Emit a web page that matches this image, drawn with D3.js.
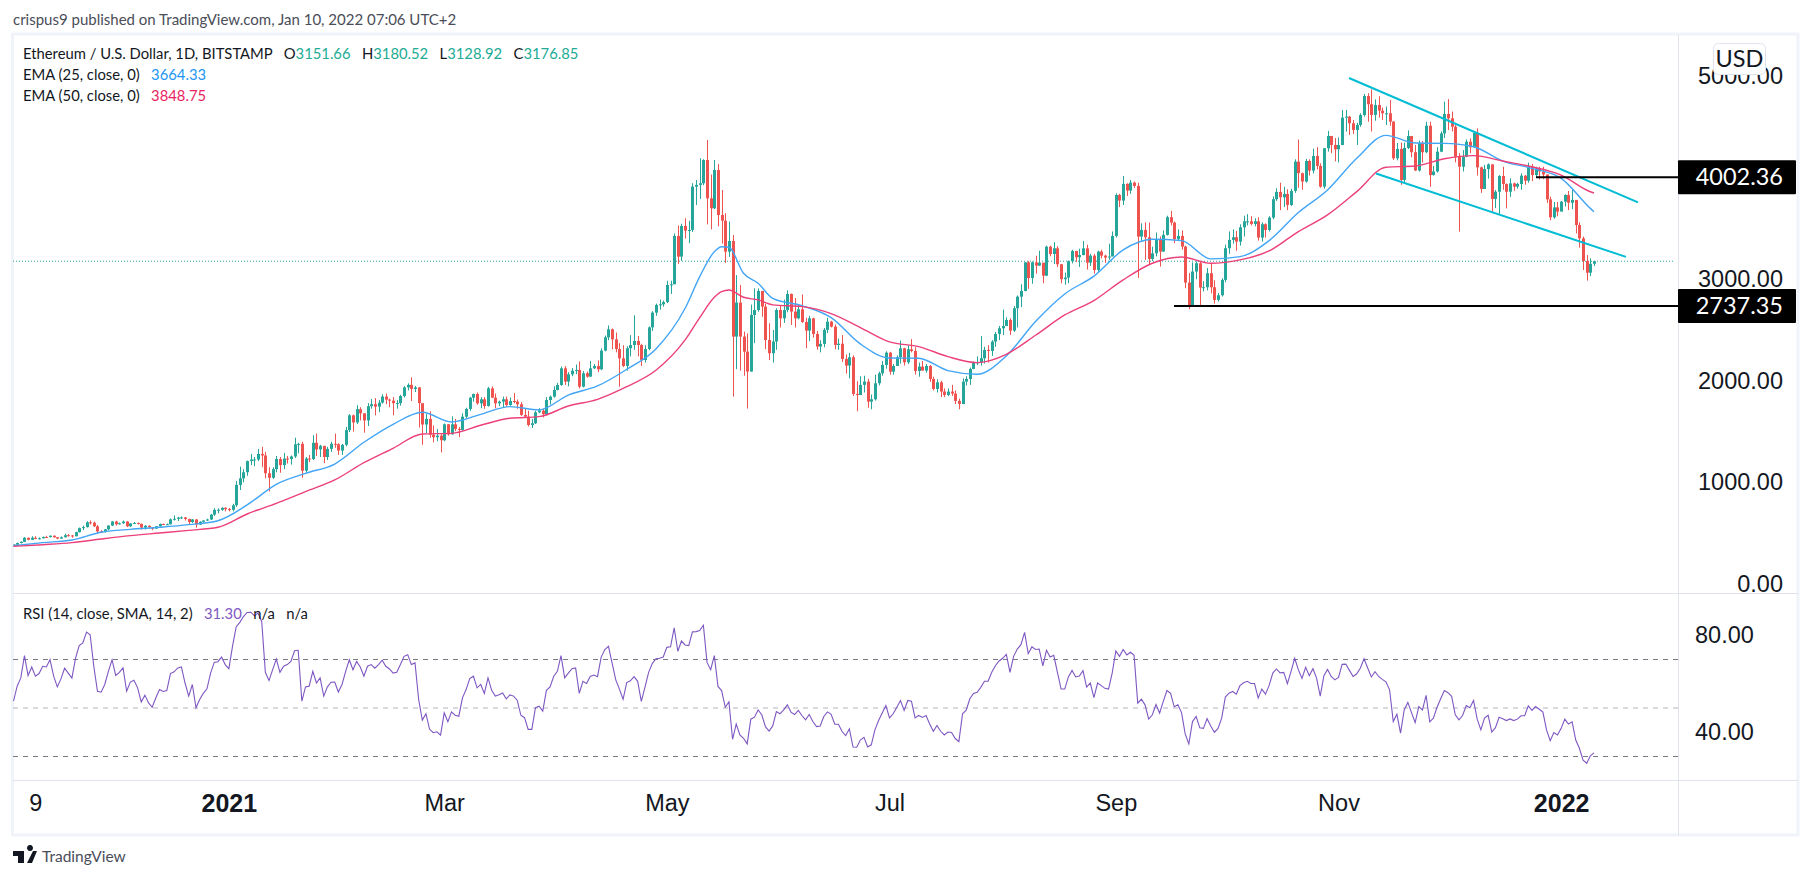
<!DOCTYPE html>
<html>
<head>
<meta charset="utf-8">
<title>Ethereum / U.S. Dollar</title>
<script src="https://cdn.jsdelivr.net/npm/d3@7"></script>
<style>
  html, body { margin: 0; padding: 0; background: #fff; overflow: hidden; }
  svg { display: block; font-family: Lato, "Open Sans", sans-serif; }
  .axis text { fill: #131722; font-size: 23.5px; }
  .axis path, .axis line { display: none; }
</style>
</head>
<body>
<svg id="chart" width="1813" height="879"></svg>
<script>
// daily candles, Nov 3 2020 to Jan 10 2022
const closes = [
  387,403,415,455,435,455,445,450,463,462,475,460,447,460,480,478,470,510,550,560,607,603,568,518,516,538,575,615,
  588,598,615,568,596,601,592,555,573,560,545,568,590,586,588,636,642,654,655,640,610,635,585,612,625,635,683,730,730,750,737,
  730,775,975,1040,1100,1210,1225,1225,1280,1265,1090,1045,1130,1230,1170,1235,1230,1255,1375,1380,1115,1235,1230,1390,1325,1360,1250,1330,1380,1375,1313,
  1370,1515,1660,1590,1720,1680,1610,1750,1770,1745,1785,1845,1815,1805,1780,1780,1850,1935,1960,1920,1935,1780,1570,1625,1470,1445,1460,1415,
  1572,1473,1572,1526,1516,1647,1723,1834,1870,1778,1818,1752,1926,1834,1778,1795,1818,1762,1801,1795,1769,1664,1647,1565,1582,1690,1706,1673,1811,1844,1910,
  1959,2123,1992,2064,2100,2106,1942,2074,2041,2123,2146,2113,2297,2428,2507,2408,2313,2221,2146,2320,2352,2392,2352,2205,2313,2526,2671,2746,2753,2775,
  2943,2950,3426,3222,3524,3478,3485,3911,3928,3944,4173,3796,3698,4075,3632,3576,3271,3376,2435,2770,2435,2287,2091,2648,2697,2884,2730,2402,2271,2386,2697,
  2615,2697,2855,2681,2615,2704,2579,2494,2615,2461,2337,2363,2501,2582,2533,2353,2365,2215,2150,2232,1871,1860,1960,1992,1795,1818,1976,2074,2156,2277,
  2090,2146,2232,2320,2182,2310,2294,2097,2140,2100,2146,2018,1920,1985,1894,1861,1894,1874,1802,1772,1992,2018,2117,2179,2182,2222,2304,2294,2386,2461,2517,
  2540,2599,2494,2714,2828,2884,3166,3012,3166,3134,3163,3035,3320,3248,3304,3147,3000,3016,3176,3278,3216,3238,3304,3163,3232,3091,3272,3232,3213,3223,3426,
  3829,3774,3938,3872,3951,3918,3419,3485,3413,3200,3255,3393,3272,3436,3610,3557,3393,3426,3321,2967,2731,3075,3157,2918,2921,3059,2921,2796,2842,2993,
  3305,3387,3413,3370,3511,3570,3570,3544,3570,3410,3541,3485,3606,3787,3859,3806,3839,3731,3869,4157,4043,3961,4164,4069,4213,4115,3911,4289,4410,4321,4279,
  4321,4590,4600,4535,4469,4518,4616,4803,4722,4617,4715,4659,4633,4633,4551,4190,4282,3977,4292,4409,4250,4070,4337,4250,4511,4025,4060,4255,4435,4626,
  4583,4501,4206,4107,4206,4353,4298,4442,4101,3888,4084,4130,3790,3861,4016,3937,3861,3943,3911,3937,4019,3970,4107,4025,4091,4060,4030,3786,3609,3707,3665,
  3763,3829,3753,3780,3533,3402,3179,3064,3151.66,3176.85
];
const highs = [
  392,408,420,462,457,470,470,458,468,475,478,478,462,468,495,492,482,515,556,575,618,625,615,580,530,540,578,620,
  623,605,625,620,600,610,605,595,580,578,560,570,595,595,595,645,675,660,665,660,642,640,640,618,628,642,690,745,745,755,755,
  748,790,1015,1155,1130,1215,1280,1250,1330,1350,1300,1150,1150,1260,1250,1290,1260,1265,1440,1390,1400,1250,1270,1465,1480,1370,1355,1350,1400,1480,1385,
  1378,1545,1672,1668,1760,1740,1680,1780,1820,1830,1810,1868,1875,1825,1840,1810,1862,1948,1975,2034,1950,1940,1660,1672,1700,1560,1525,1475,
  1580,1575,1650,1625,1545,1680,1735,1840,1875,1885,1840,1840,1940,1945,1875,1805,1845,1845,1835,1880,1815,1790,1725,1705,1625,1705,1730,1725,1840,1855,1945,
  1980,2140,2145,2085,2125,2160,2190,2095,2090,2195,2165,2200,2320,2445,2545,2515,2475,2370,2350,2340,2450,2645,2440,2365,2350,2535,2685,2760,2800,2790,
  2985,2985,3450,3530,3545,3600,3575,3945,3976,4190,4180,4370,4030,4173,4134,3878,3650,3567,3435,3040,2943,2484,2467,2750,2910,2910,2885,2760,2566,2500,2714,
  2740,2800,2890,2860,2815,2745,2850,2620,2640,2620,2490,2400,2520,2620,2590,2555,2415,2450,2260,2275,2250,1995,2045,2050,2020,1865,2060,2090,2195,2290,
  2285,2165,2250,2395,2325,2350,2410,2330,2180,2195,2165,2155,2040,2015,2000,1925,1925,1960,1905,1825,2025,2045,2130,2190,2240,2440,2335,2350,2400,2480,2540,
  2700,2625,2615,2735,2840,2950,3170,3180,3175,3230,3280,3125,3330,3330,3365,3325,3150,3065,3185,3290,3280,3300,3375,3340,3250,3250,3280,3290,3240,3350,3470,
  3845,3840,4016,3944,3977,3961,3950,3550,3560,3557,3320,3460,3420,3480,3625,3672,3567,3490,3480,3330,3060,3165,3175,3180,2980,3110,3160,2990,2865,3010,
  3340,3470,3490,3475,3540,3625,3640,3620,3600,3610,3560,3550,3620,3815,3895,3950,3910,3885,3890,4180,4375,4050,4185,4180,4285,4300,4140,4290,4460,4400,4390,
  4395,4666,4666,4607,4567,4540,4633,4823,4830,4868,4770,4800,4690,4700,4764,4555,4340,4345,4345,4465,4410,4320,4365,4360,4550,4550,4115,4300,4455,4747,
  4773,4650,4517,4240,4271,4376,4386,4452,4485,4108,4124,4140,4130,3878,4025,4107,3943,3993,3950,3950,4042,4025,4147,4134,4107,4107,4107,4032,3812,3760,3760,
  3770,3835,3868,3884,3780,3560,3420,3238,3205,3180.52
];
const lows = [
  378,380,400,412,430,432,440,438,448,455,458,455,442,445,458,468,455,468,507,530,555,585,560,495,505,505,530,570,
  575,585,592,560,560,590,585,535,535,545,530,545,565,580,580,585,625,620,640,625,590,600,555,580,605,620,630,670,695,720,715,
  715,715,760,925,1000,1065,1170,1160,1210,1150,1040,910,1035,1100,1095,1130,1185,1175,1240,1285,1045,1090,1200,1220,1260,1250,1190,1220,1300,1340,1270,
  1270,1355,1495,1500,1575,1610,1490,1555,1725,1660,1690,1775,1770,1740,1660,1725,1755,1835,1905,1800,1890,1540,1370,1485,1440,1395,1405,1295,
  1405,1460,1470,1505,1445,1510,1630,1705,1795,1765,1730,1725,1745,1830,1730,1750,1740,1745,1755,1780,1725,1655,1640,1550,1535,1575,1680,1640,1670,1765,1835,
  1905,1950,1960,1945,2045,2065,1925,1935,2030,2040,2115,2085,2105,2290,2400,2310,2280,1942,2135,2100,2240,2305,2240,2145,2180,2300,2490,2640,2700,2730,
  2765,2855,2950,3150,3180,3400,3355,3465,3730,3790,3925,3540,3490,3690,3520,3350,3160,3220,1845,2115,2100,2050,1727,2090,2370,2680,2630,2310,2205,2180,2305,
  2525,2570,2675,2550,2525,2605,2570,2320,2390,2425,2305,2280,2330,2470,2525,2310,2305,2185,2070,2025,1850,1700,1860,1885,1735,1720,1805,1955,2050,2120,
  2060,2060,2220,2170,2150,2165,2280,2060,2040,2105,2080,1990,1905,1885,1840,1840,1850,1850,1770,1720,1770,1955,1960,2115,2155,2150,2170,2180,2245,2335,2400,
  2450,2580,2450,2480,2525,2725,2880,2905,2955,3055,3130,2960,3030,3225,3150,3120,2960,2945,2960,3155,3170,3120,3235,3095,3130,3055,3065,3205,3160,3190,3355,
  3410,3710,3730,3820,3840,3900,3013,3380,3190,3140,3180,3225,3124,3270,3430,3530,3354,3375,3290,2911,2704,2730,3000,2730,2880,2890,2860,2760,2780,2830,
  2970,3250,3350,3280,3330,3420,3530,3530,3520,3380,3370,3410,3470,3590,3770,3680,3710,3680,3720,3850,3900,3880,3950,4020,4040,4080,3900,3890,4255,4240,4160,
  4150,4320,4453,4420,4430,4321,4500,4600,4550,4453,4560,4590,4567,4518,4510,4173,4170,3930,3955,4280,4200,4065,4060,4150,4240,3910,4020,4050,4250,4390,
  4468,4455,4150,3468,4060,4200,4240,4350,4020,3850,3960,3990,3665,3700,3642,3880,3697,3810,3870,3890,3880,3930,3950,3965,4000,3980,3985,3750,3580,3595,3620,
  3680,3715,3680,3690,3450,3310,3090,2986,3030,3128.92
];
const firstOpen = 383;

// EMA readings, roughly one every 8 sessions, closer around the May top
const emaDays = [0,8,16,24,32,40,48,56,64,72,80,88,96,104,112,120,128,136,144,152,160,168,176,184,188,192,194,196,200,204,208,216,224,232,240,248,256,264,272,280,288,296,304,312,320,328,336,344,352,360,368,376,384,392,400,408,416,424,432,433];
const ema25 = [377,407,433,509,538,558,584,623,778,981,1089,1181,1395,1572,1690,1595,1670,1746,1713,1860,1949,2113,2314,2714,3025,3271,3320,3314,3058,2960,2812,2740,2622,2363,2225,2222,2100,2064,2245,2583,2855,3030,3288,3393,3380,3200,3222,3380,3656,3879,4190,4416,4340,4337,4304,4163,4091,3993,3697,3664.33];
const ema50 = [371,387,407,443,476,502,528,558,689,794,909,1024,1194,1336,1477,1483,1562,1631,1647,1752,1818,1942,2104,2402,2622,2822,2878,2894,2822,2796,2747,2730,2661,2524,2383,2337,2238,2179,2261,2448,2648,2790,2993,3157,3219,3157,3190,3278,3469,3633,3862,4102,4114,4186,4216,4163,4107,4025,3861,3848.75];

const rsi = [
  52.6,58.8,62.2,71.4,63.2,66.7,62.9,64,67,66.7,69.7,62.9,58.5,61.8,66.2,64.2,62.1,70.4,75.5,76.6,81.1,80,
  67,56.7,56.3,59.5,64.9,69.7,63.2,64.5,66.4,56.7,60.5,61.2,58.1,52.3,55.1,51.9,50.1,54,57.4,56.6,57,64,64.7,66.3,66.7,60.1,54.7,59.5,49.9,53.3,55.8,57.7,64.2,68.6,68.9,70.8,67.7,66,
  75.2,83.2,85.1,87.5,89.2,89.3,87.8,88.9,85.5,64.5,61.1,65.6,70,64.5,67,67.7,69,73.4,73.6,52.6,58.5,58.8,64.9,60.1,62.2,54.7,58.5,60.4,60.5,56.4,
  59.5,64.9,69.7,65.6,69,66.7,62.9,67,67.7,66.2,67.7,69.5,67,65.9,64.2,64.5,67.7,71.1,71.8,67.7,68.4,53.3,44.8,47.4,41,39.6,40,38.6,
  47.8,44.1,48.2,46.8,46.4,54,57.4,61.9,62.9,58.1,59.5,55.8,62.2,57.1,54.7,55.3,56,53.6,55.2,54.7,53,46.8,45.8,41,41,49.9,50.5,48.5,57.1,58.5,62.9,
  64.9,71.4,62.2,64.2,66,66.3,55.8,60.8,59.9,62.8,63.4,62.7,70.8,73.9,75.2,68.3,61.4,57.6,53.4,60.3,61,62.7,60.8,52.5,58.4,64.5,68.1,70.1,70.3,70.8,
  74.8,75,82.8,73.2,77.4,75.8,75.5,81.2,81.3,81.7,83.9,68.6,65.6,71.4,58.7,57,50.1,52.3,36.9,43.2,38.7,37.3,35,45.2,46,49,47,42.1,40.3,42.4,48.3,
  47.4,49,51.1,48.1,47.1,48.8,46.7,44.9,47.1,44.2,42.1,42.4,46.3,48.2,47.2,43.1,43.1,40.1,38.4,41.2,33.7,33.6,36.6,37.7,33.7,34.6,40.8,44.6,47.7,50.8,
  45.7,47.4,50.1,52.9,48.8,52.9,52.6,45.7,46.7,45.9,46.7,43.2,40.2,42.6,40.2,38.7,39.9,39.7,37.2,35.9,47.4,48.9,53.6,55.8,56.3,58.3,60.8,60.8,64.5,67.2,69.2,
  70.3,71.9,64.5,71.1,74.1,75.9,81,72.2,75,73.9,74.1,67.2,73.6,70.8,71.5,64.5,57.6,57.6,62.6,65.3,62.6,63,65.2,58.4,60.1,54.1,60.1,59,57.9,57.6,64.2,
  73.3,71.1,73.9,71.7,72.8,71.5,51.8,53.4,51.1,45.2,47,51.2,47.7,52.5,57,55.8,50.3,51.1,47.9,39.1,35,44.2,46.3,41.6,41.4,45.4,42.4,39.8,41.4,45.6,
  54.3,55.9,56.6,55.5,59,60.2,60.8,59.9,59.9,53.9,57.6,55.5,59.1,64.2,65.9,64.3,64.5,59.8,64.9,70.3,65.6,62,66.6,63.1,66,62.1,54.7,63.1,65.7,62.8,61.4,
  62.4,67.8,67.9,65.3,62.8,63.9,66.3,70.1,66.3,62.6,64.8,62.8,61.6,60.6,57.3,44.2,47.2,39.4,49,52.1,47.9,43.8,50.4,49,55,44.1,45.6,50.1,53.6,57,
  56.1,54.6,47,44.9,46.7,50.8,49.9,52.9,45.2,40.8,45.6,46.8,39.9,41.7,46,45.4,44.6,45.3,44.6,45.2,46.6,46.6,50.7,48.8,50.4,49.3,48.1,40.8,36.3,39.7,
  38.7,41.4,45.2,43.2,44.1,36.6,33.2,28.3,27,30.1,31.3
];

const priceTicks = [0, 1000, 2000, 3000, 4000, 5000];
const rsiTicks = [40, 80];
const rsiLevels = [70, 50, 30];
const dateTicks = [6, 59, 118, 179, 240, 302, 363, 424];
const dateLabels = ["9", "2021", "Mar", "May", "Jul", "Sep", "Nov", "2022"];
const boldLabels = ["2021", "2022"];
const lastClose = 3176.85;
const support = 2737.35;
const resistance = 4002.36;

const width = 1813, height = 879;
const paneLeft = 13, paneRight = 1678, frameRight = 1798;
const frameTop = 35, mainBottom = 593, rsiBottom = 780, frameBottom = 835;

const svg = d3.select("#chart");
const green = "#26a69a", red = "#ef5350";

const x = d3.scaleLinear().domain([0, closes.length - 1]).range([13.5, 1594]);
const y = d3.scaleLinear().domain([0, 5000]).range([584, 76]);
const yRsi = d3.scaleLinear().domain([30, 70]).range([756, 659]);

svg.append("defs").append("clipPath").attr("id", "pane")
  .append("rect").attr("x", paneLeft).attr("y", frameTop)
  .attr("width", paneRight - paneLeft).attr("height", rsiBottom - frameTop);

// frame and separators
svg.append("rect").attr("x", 12.5).attr("y", frameTop - 1)
  .attr("width", frameRight - 12.5).attr("height", frameBottom - frameTop + 1)
  .attr("fill", "none").attr("stroke", "#f0f3fa").attr("stroke-width", 3);
[mainBottom, rsiBottom].forEach(d => {
  svg.append("line").attr("x1", paneLeft).attr("x2", frameRight)
    .attr("y1", d + 0.5).attr("y2", d + 0.5).attr("stroke", "#e0e3eb");
});
svg.append("line").attr("x1", paneRight + 0.5).attr("x2", paneRight + 0.5)
  .attr("y1", frameTop).attr("y2", frameBottom).attr("stroke", "#e0e3eb");

const plot = svg.append("g").attr("clip-path", "url(#pane)");

// rsi levels + line
plot.selectAll(".level").data(rsiLevels).enter().append("line")
  .attr("x1", paneLeft).attr("x2", paneRight)
  .attr("y1", d => yRsi(d) + 0.5).attr("y2", d => yRsi(d) + 0.5)
  .attr("stroke", d => d === 50 ? "#b2b5be" : "#787b86")
  .attr("stroke-dasharray", "5 5");

plot.append("path").datum(rsi)
  .attr("fill", "none").attr("stroke", "#7e57c2").attr("stroke-width", 1.1)
  .attr("d", d3.line().x((d, i) => x(i)).y(d => yRsi(d)));

// last price
plot.append("line").attr("x1", paneLeft).attr("x2", paneRight - 3)
  .attr("y1", y(lastClose)).attr("y2", y(lastClose))
  .attr("stroke", green).attr("stroke-dasharray", "1 2");

// candles
const candles = plot.append("g").selectAll("g").data(closes).enter().append("g");
const openOf = i => i === 0 ? firstOpen : closes[i - 1];
const colorOf = (d, i) => d >= openOf(i) ? green : red;

candles.append("line")
  .attr("x1", (d, i) => Math.round(x(i)) + 0.5).attr("x2", (d, i) => Math.round(x(i)) + 0.5)
  .attr("y1", (d, i) => y(highs[i])).attr("y2", (d, i) => y(lows[i]))
  .attr("stroke", colorOf);

candles.append("rect")
  .attr("x", (d, i) => Math.round(x(i)) - 1)
  .attr("width", 3)
  .attr("y", (d, i) => y(Math.max(d, openOf(i))))
  .attr("height", (d, i) => Math.max(1, Math.abs(y(d) - y(openOf(i)))))
  .attr("fill", colorOf);

// moving averages
const emaLine = d3.line().x((d, i) => x(emaDays[i])).y(d => y(d)).curve(d3.curveMonotoneX);
plot.append("path").datum(ema25).attr("fill", "none")
  .attr("stroke", "#42a5f5").attr("stroke-width", 1.4).attr("d", emaLine);
plot.append("path").datum(ema50).attr("fill", "none")
  .attr("stroke", "#ec407a").attr("stroke-width", 1.4).attr("d", emaLine);

// drawn channel
const channels = [
  [[4980, 1349], [3756, 1638]],
  [[4040, 1376], [3220, 1626]]
];
channels.forEach(c => {
  svg.append("line")
    .attr("x1", c[0][1]).attr("y1", y(c[0][0]))
    .attr("x2", c[1][1]).attr("y2", y(c[1][0]))
    .attr("stroke", "#00bcd4").attr("stroke-width", 2);
});

// horizontal levels
[[resistance, 1536], [support, 1174]].forEach(d => {
  svg.append("line").attr("x1", d[1]).attr("x2", paneRight)
    .attr("y1", y(d[0])).attr("y2", y(d[0]))
    .attr("stroke", "#000").attr("stroke-width", 2);
});

// axes
const labelX = 1783;
const priceAxis = d3.axisRight(y).tickValues(priceTicks).tickFormat(d3.format(".2f")).tickSize(0).tickPadding(0);
svg.append("g").attr("class", "axis").attr("transform", `translate(${labelX},0)`)
  .call(priceAxis).selectAll("text").attr("text-anchor", "end");

const rsiAxis = d3.axisRight(yRsi).tickValues(rsiTicks).tickFormat(d3.format(".2f")).tickSize(0).tickPadding(0);
svg.append("g").attr("class", "axis").attr("transform", "translate(1695,0)").call(rsiAxis);

const dateAxis = d3.axisBottom(x).tickValues(dateTicks)
  .tickFormat((d, i) => dateLabels[i]).tickSize(0).tickPadding(0);
svg.append("g").attr("class", "axis").attr("transform", "translate(0,794)")
  .call(dateAxis).selectAll("text")
  .attr("font-weight", function () { return boldLabels.includes(d3.select(this).text()) ? 700 : 400; })
  .style("font-size", function () { return boldLabels.includes(d3.select(this).text()) ? "25px" : "23.5px"; })
  .attr("dy", "0.71em");

// price labels on black
[resistance, support].forEach(d => {
  svg.append("rect").attr("x", paneRight).attr("y", y(d) - 17)
    .attr("width", 118).attr("height", 34).attr("rx", 1).attr("fill", "#000");
  svg.append("text").attr("x", labelX).attr("y", y(d)).attr("dy", "0.34em")
    .attr("text-anchor", "end").attr("fill", "#fff").attr("font-size", 23.5)
    .text(d3.format(".2f")(d));
});

// currency tag
svg.append("rect").attr("x", 1713.5).attr("y", 43.5).attr("width", 52).attr("height", 31).attr("rx", 5)
  .attr("fill", "#fff").attr("stroke", "#e0e3eb");
svg.append("text").attr("x", 1739.5).attr("y", 59).attr("dy", "0.35em")
  .attr("text-anchor", "middle").attr("fill", "#131722").attr("font-size", 23.5).text("USD");

// legend text
function addText(px, py, parts, size) {
  const t = svg.append("text").attr("x", px).attr("y", py).attr("font-size", size);
  parts.forEach(p => t.append("tspan").attr("fill", p[1]).text(p[0]));
}
const ink = "#131722", teal = "#22ab94", gap = "\u00a0\u00a0\u00a0";
addText(13, 25, [["crispus9 published on TradingView.com, Jan 10, 2022 07:06 UTC+2", "#4a4d58"]], 15);
addText(23, 59, [["Ethereum / U.S. Dollar, 1D, BITSTAMP", ink], [gap + "O", ink], ["3151.66", teal],
  [gap + "H", ink], ["3180.52", teal], [gap + "L", ink], ["3128.92", teal], [gap + "C", ink], ["3176.85", teal]], 14.8);
addText(23, 80, [["EMA (25, close, 0)" + gap, ink], ["3664.33", "#2196f3"]], 14.8);
addText(23, 101, [["EMA (50, close, 0)" + gap, ink], ["3848.75", "#e91e63"]], 14.8);
addText(23, 619, [["RSI (14, close, SMA, 14, 2)" + gap, ink], ["31.30", "#7e57c2"], [gap + "n/a" + gap + "n/a", ink]], 14.8);

// footer logo
svg.append("path").attr("fill", "#131722")
  .attr("d", "M13 851h11v12h-6v-7h-5z M30 851a3 3 0 1 1 0.01 0z M33 851h4l-5 12h-5z");
addText(42, 862, [["TradingView", "#4a4d58"]], 15.5);
</script>
</body>
</html>
